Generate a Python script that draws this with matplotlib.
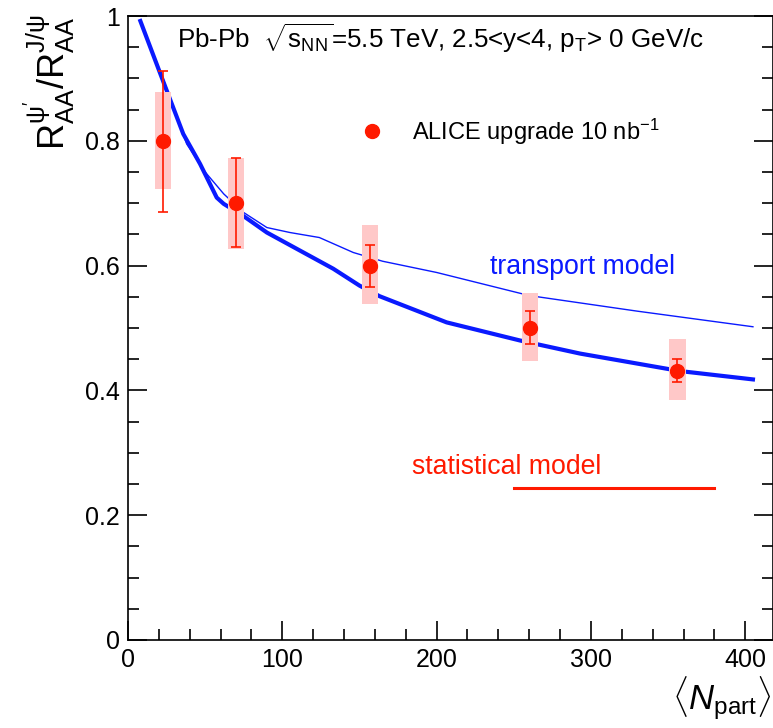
import numpy as np
import matplotlib
matplotlib.use("Agg")
from matplotlib import pyplot as plt
from matplotlib.patches import Rectangle
from matplotlib.ticker import MultipleLocator

plt.rcParams['font.family'] = ['Liberation Sans', 'DejaVu Sans']
plt.rcParams['mathtext.fontset'] = 'custom'
plt.rcParams['mathtext.rm'] = 'Liberation Sans'
plt.rcParams['mathtext.it'] = 'Liberation Sans:italic'
plt.rcParams['mathtext.bf'] = 'Liberation Sans:bold'

# ALICE upgrade projection, psi(2S)/J/psi double ratio
npart = [22.7, 70, 157, 260.5, 356]
ratio = [0.80, 0.70, 0.60, 0.50, 0.431]
stat_lo = [0.686, 0.630, 0.566, 0.474, 0.413]
stat_hi = [0.912, 0.773, 0.633, 0.527, 0.451]
syst_lo = [0.723, 0.627, 0.539, 0.447, 0.384]
syst_hi = [0.878, 0.773, 0.665, 0.556, 0.482]
box_halfwidth = 5.3

# transport model, two curves
tm_thick_x = [8, 22.7, 35.8, 46.7, 57.5, 62, 74.5, 90, 111.5, 133, 150, 163,
              206.5, 254, 293, 357.7, 405]
tm_thick_y = [0.992, 0.896, 0.811, 0.763, 0.709, 0.699, 0.680, 0.653, 0.624,
              0.595, 0.568, 0.551, 0.509, 0.480, 0.459, 0.431, 0.4176]
tm_thin_x = [8, 22.7, 30, 38, 50, 62, 75, 90, 105, 124, 146, 165, 200, 260,
             330, 405]
tm_thin_y = [0.992, 0.900, 0.850, 0.795, 0.750, 0.715, 0.685, 0.661, 0.653,
             0.645, 0.621, 0.607, 0.589, 0.552, 0.527, 0.502]

# statistical hadronization model
sm_x = [250, 380]
sm_y = [0.244, 0.244]

red = '#ff1a00'
blue = '#0a1aff'

fig = plt.figure(figsize=(7.73, 7.28), dpi=100)
ax = fig.add_axes([0.1656, 0.1209, 0.8344, 0.8571])

ax.plot(tm_thick_x, tm_thick_y, color=blue, lw=3.0, zorder=2)
ax.plot(tm_thin_x, tm_thin_y, color=blue, lw=1.0, zorder=2)
ax.plot(sm_x, sm_y, color=red, lw=2.2, zorder=2)

for x, y, slo, shi in zip(npart, ratio, syst_lo, syst_hi):
    ax.add_patch(Rectangle((x - box_halfwidth, slo), 2 * box_halfwidth, shi - slo,
                           facecolor='#ffc8c8', edgecolor='none', zorder=3))

yerr = [np.array(ratio) - np.array(stat_lo), np.array(stat_hi) - np.array(ratio)]
ax.errorbar(npart, ratio, yerr=yerr, fmt='o', color=red, ms=10, elinewidth=1.2,
            capsize=3.5, capthick=1.2, zorder=4)

# legend entry
ax.plot([158], [0.815], 'o', color=red, ms=10)
ax.text(184, 0.815, r'ALICE upgrade 10 nb$^{\mathregular{-1}}$', fontsize=17,
        va='center', ha='left')

ax.text(31.8, 0.965,
        r'Pb-Pb  $\sqrt{\mathregular{s}_{\mathregular{NN}}}$=5.5 TeV, 2.5<y<4, p$_{\mathregular{T}}$> 0 GeV/c',
        fontsize=18.7, va='center', ha='left')
ax.text(234.6, 0.597, 'transport model', color=blue, fontsize=19.2,
        va='center', ha='left')
ax.text(183.9, 0.277, 'statistical model', color=red, fontsize=19.2,
        va='center', ha='left')

ax.set_xlim(0, 418)
ax.set_ylim(0, 1)
ax.xaxis.set_major_locator(MultipleLocator(100))
ax.xaxis.set_minor_locator(MultipleLocator(20))
ax.yaxis.set_major_locator(MultipleLocator(0.2))
ax.yaxis.set_minor_locator(MultipleLocator(0.05))
ax.set_yticks([0, 0.2, 0.4, 0.6, 0.8, 1.0])
ax.set_yticklabels(['0', '0.2', '0.4', '0.6', '0.8', '1'])
ax.tick_params(which='both', direction='in', right=True, top=False,
               labelsize=18, width=1.2)
ax.tick_params(which='major', length=14, pad=6)
ax.tick_params(which='minor', length=8)
for s in ax.spines.values():
    s.set_linewidth(1.2)

fig.text(0.028, 0.98,
         r"$\mathregular{R}_{\mathregular{AA}}^{\mathregular{ψ'}}/\mathregular{R}_{\mathregular{AA}}^{\mathregular{J/ψ}}$",
         rotation=90, fontsize=26, ha='left', va='top')
fig.text(0.998, 0.008, r'$\langle N_{\mathregular{part}}\rangle$', fontsize=25,
         ha='right', va='bottom')

fig.savefig('out.png', dpi=100)
